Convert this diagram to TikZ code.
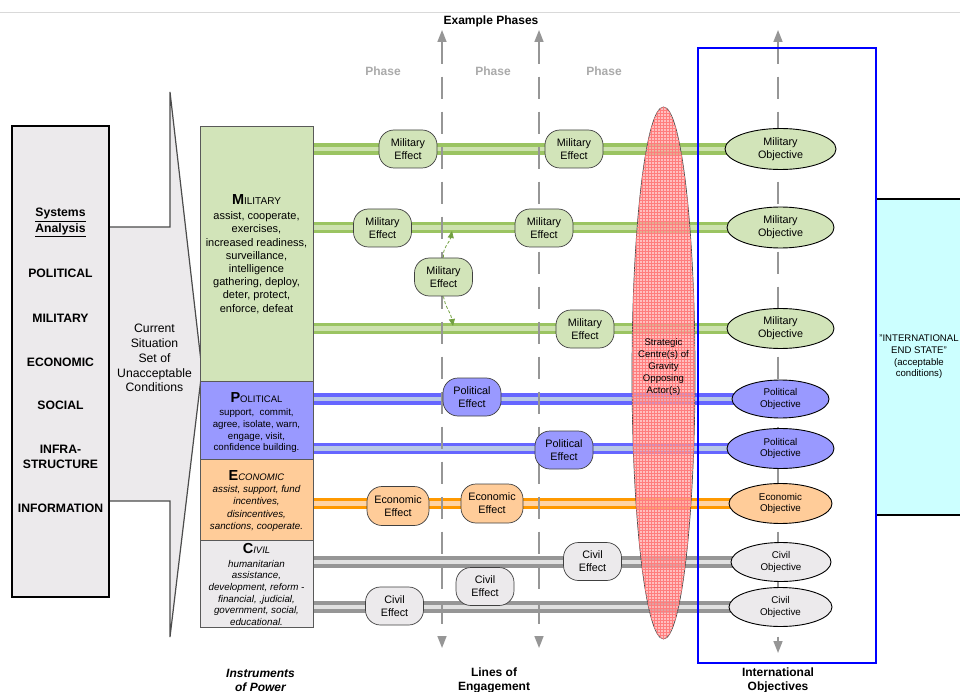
\documentclass[tikz,border=0pt]{standalone}
\usepackage{fontspec}
\setmainfont{Liberation Sans}
\usetikzlibrary{arrows.meta,patterns,shapes.geometric}
\pgfdeclarelayer{bg}
\pgfsetlayers{bg,main}
\newcommand{\fsz}[2]{\fontsize{#1}{#2}\selectfont}
\definecolor{mgreen}{RGB}{210,228,185}
\definecolor{railg}{RGB}{155,196,98}
\definecolor{railgin}{RGB}{205,226,175}
\definecolor{pblue}{RGB}{153,153,255}
\definecolor{railb}{RGB}{102,102,255}
\definecolor{railbin}{RGB}{185,200,230}
\definecolor{eorange}{RGB}{255,204,153}
\definecolor{railo}{RGB}{255,153,0}
\definecolor{railoin}{RGB}{255,212,165}
\definecolor{cgray}{RGB}{236,234,236}
\definecolor{railc}{RGB}{150,150,150}
\definecolor{railcin}{RGB}{225,225,225}
\definecolor{endcyan}{RGB}{204,255,255}
\definecolor{phasegray}{RGB}{170,170,170}
\definecolor{arrowgray}{RGB}{150,150,150}
\definecolor{linkgreen}{RGB}{115,160,65}
\definecolor{cogred}{RGB}{255,165,165}
\definecolor{coggrid}{RGB}{255,125,125}
\definecolor{objblue}{RGB}{0,0,255}
\tikzset{
  effect/.style={draw=black!75, line width=0.7pt, rounded corners=15pt,
    minimum width=58pt, minimum height=38pt, inner sep=1pt, align=center,
    font=\fsz{10.8}{13.2}},
  objective/.style={ellipse, draw=black, line width=0.9pt, inner sep=0pt,
    align=center},
  inst/.style={draw=black!65, line width=0.8pt, minimum width=113pt, inner sep=0pt},
  rail/.style={line width=3.4pt, double distance=4.8pt},
  greenrail/.style={rail, draw=railg, double=railgin},
  bluerail/.style={rail, draw=railb, double=railbin},
  orangerail/.style={rail, draw=railo, double=railoin},
  grayrail/.style={rail, draw=railc, double=railcin},
  phasearrow/.style={draw=arrowgray, line width=1.6pt, dash pattern=on 22pt off 13pt,
    {Triangle[width=9pt,length=12pt]}-{Triangle[width=9pt,length=12pt]}},
  linkarrow/.style={draw=linkgreen, line width=0.8pt, dash pattern=on 3pt off 2pt,
    -{Triangle[width=6pt,length=7pt]}},
  salabel/.style={font=\fsz{12.2}{14}\bfseries},
  botlabel/.style={font=\fsz{12}{14}\bfseries, align=center},
  phaselabel/.style={font=\fsz{12}{14}\bfseries, text=phasegray},
}
\begin{document}
\begin{tikzpicture}[x=1pt,y=-1pt]
\useasboundingbox (0,0) rectangle (960,692);
\begin{pgfonlayer}{bg}
  \fill[white] (0,0) rectangle (960,692);
\end{pgfonlayer}
\clip (0,0) rectangle (960,692);
\draw[black!15, line width=0.8pt] (0,12) -- (960,12);

% chevron and systems analysis box
\draw[draw=black!70, line width=1.2pt, fill=cgray] (109,227) -- (170,227) -- (170,92)
  -- (202,370) -- (170,637) -- (170,501) -- (109,501) -- cycle;
\node[draw=black, line width=1.1pt, fill=cgray, minimum width=97pt, minimum height=471pt,
  inner sep=0pt] (sa) at (60.5,361.5) {};
\node[salabel] (sa1) at (60.5,215) {\underline{Systems}};
\node[salabel] (sa2) at (60.5,230) {\underline{Analysis}};
\node[salabel] (sa3) at (60.5,273) {POLITICAL};
\node[salabel] (sa4) at (60.5,318) {MILITARY};
\node[salabel] (sa5) at (60.5,362) {ECONOMIC};
\node[salabel] (sa6) at (60.5,405) {SOCIAL};
\node[salabel] (sa7) at (60.5,449) {INFRA-};
\node[salabel] (sa8) at (60.5,464) {STRUCTURE};
\node[salabel] (sa9) at (60.5,508) {INFORMATION};
\node[align=center, font=\fsz{12.2}{14.8}] (cur) at (154.5,358)
  {Current\\Situation\\Set of\\Unacceptable\\Conditions};

% instruments of power
\node[inst, fill=mgreen, minimum height=255pt] (mil) at (256.5,253.5) {};
\node[inst, fill=pblue, minimum height=78pt] (pol) at (256.5,420) {};
\node[inst, fill=eorange, minimum height=81pt] (eco) at (256.5,499.5) {};
\node[inst, fill=cgray, minimum height=87pt] (civ) at (256.5,583.5) {};
\node[align=center, font=\fsz{11}{13.2}] (miltxt) at (256.5,254)
  {{\fsz{14.5}{15}\bfseries M}{\fsz{10}{12}ILITARY}\\[2pt]
   assist, cooperate,\\ exercises,\\ increased readiness,\\ surveillance,\\
   intelligence\\ gathering, deploy,\\ deter, protect,\\ enforce, defeat};
\node[align=center, font=\fsz{9.7}{11.6}] (poltxt) at (256.5,422.5)
  {{\fsz{14.5}{15}\bfseries P}{\fsz{9.5}{11}OLITICAL}\\[2pt]
   support,\ \ commit,\\ agree, isolate, warn,\\ engage, visit,\\ confidence building.};
\node[align=center, font=\fsz{9.8}{12.2}\itshape] (ecotxt) at (256.5,501)
  {{\fsz{14.5}{15}\bfseries\upshape E}{\fsz{9.5}{11}CONOMIC}\\
   assist, support, fund\\ incentives,\\ disincentives,\\ sanctions, cooperate.};
\node[align=center, font=\fsz{9.8}{11.6}\itshape] (civtxt) at (256.5,584.5)
  {{\fsz{14.5}{15}\bfseries\upshape C}{\fsz{9.5}{11}IVIL}\\[2pt]
   humanitarian\\ assistance,\\ development, reform -\\ financial, ,judicial,\\
   government, social,\\ educational.};

% objectives
\node[objective, fill=mgreen, minimum width=111pt, minimum height=41pt, font=\fsz{10.8}{13.3}]
  (mo1) at (780.5,149) {Military\\Objective};
\node[objective, fill=mgreen, minimum width=107pt, minimum height=41pt, font=\fsz{10.8}{13.3}]
  (mo2) at (780.5,227.5) {Military\\Objective};
\node[objective, fill=mgreen, minimum width=107pt, minimum height=40pt, font=\fsz{10.8}{13.3}]
  (mo3) at (780.5,328.5) {Military\\Objective};
\node[objective, fill=pblue, minimum width=97pt, minimum height=38pt, font=\fsz{9.8}{11.5}]
  (po1) at (780.5,399) {Political\\Objective};
\node[objective, fill=pblue, minimum width=107pt, minimum height=40pt, font=\fsz{9.8}{11.5}]
  (po2) at (780.5,448.5) {Political\\Objective};
\node[objective, fill=eorange, minimum width=103pt, minimum height=40pt, font=\fsz{9.8}{11.5}]
  (eo) at (780.5,503.5) {Economic\\Objective};
\node[objective, fill=cgray, minimum width=100pt, minimum height=39pt, font=\fsz{9.8}{11.5}]
  (co1) at (781,562) {Civil\\Objective};
\node[objective, fill=cgray, minimum width=103pt, minimum height=39pt, font=\fsz{9.8}{11.5}]
  (co2) at (780.5,607) {Civil\\Objective};

% effects
\node[effect, fill=mgreen] (me1) at (408,149) {Military\\Effect};
\node[effect, fill=mgreen] (me2) at (574,149) {Military\\Effect};
\node[effect, fill=mgreen] (me3) at (382.5,228) {Military\\Effect};
\node[effect, fill=mgreen] (me4) at (544,228) {Military\\Effect};
\node[effect, fill=mgreen] (me5) at (443.5,277) {Military\\Effect};
\node[effect, fill=mgreen] (me6) at (585,329) {Military\\Effect};
\node[effect, fill=pblue] (pe1) at (472,397) {Political\\Effect};
\node[effect, fill=pblue] (pe2) at (564,450) {Political\\Effect};
\node[effect, fill=eorange, minimum width=62pt, minimum height=39pt] (ee1) at (398,506) {Economic\\Effect};
\node[effect, fill=eorange, minimum width=62pt, minimum height=39pt] (ee2) at (492,503.5) {Economic\\Effect};
\node[effect, fill=cgray] (ce1) at (592.5,561.5) {Civil\\Effect};
\node[effect, fill=cgray] (ce2) at (485,586.5) {Civil\\Effect};
\node[effect, fill=cgray] (ce3) at (394.5,606) {Civil\\Effect};

% rails and phase lines (background)
\coordinate (l1t) at (442,30); \coordinate (l1b) at (442,648);
\coordinate (l2t) at (539,30); \coordinate (l2b) at (539,648);
\coordinate (l3t) at (778,30); \coordinate (l3b) at (778,653);
\begin{pgfonlayer}{bg}
  \draw[greenrail] (mil.east |- mo1) -- (mo1.center);
  \draw[greenrail] (mil.east |- mo2) -- (mo2.center);
  \draw[greenrail] (mil.east |- mo3) -- (mo3.center);
  \draw[bluerail] (pol.east |- po1) -- (po1.center);
  \draw[bluerail] (pol.east |- po2) -- (po2.center);
  \draw[orangerail] (eco.east |- eo) -- (eo.center);
  \draw[grayrail] (civ.east |- co1) -- (co1.center);
  \draw[grayrail] (civ.east |- co2) -- (co2.center);
  \draw[phasearrow] (l1t) -- (l1b);
  \draw[phasearrow] (l2t) -- (l2b);
  \draw[phasearrow] (l3t) -- (l3b);
\end{pgfonlayer}

% links from the floating military effect
\coordinate (r2a) at (452,231);
\coordinate (r3a) at (453,326);
\draw[linkarrow] (me5.north) .. controls (442,248) and (450,242) .. (r2a);
\draw[linkarrow] (me5.south) .. controls (445,307) and (451,313) .. (r3a);

% strategic centre of gravity
\node[draw=black!70, line width=0.7pt, ellipse, minimum width=63pt, minimum height=532pt,
  inner sep=0pt, preaction={fill=cogred, fill opacity=0.7},
  postaction={pattern=grid, pattern color=coggrid, fill opacity=0.25}] (cog) at (663.5,373) {};
\node[align=center, font=\fsz{9.6}{11.8}] (cogtxt) at (663.5,367)
  {Strategic\\Centre(s) of\\Gravity\\Opposing\\Actor(s)};

% end state box and objectives frame
\fill[endcyan] (876,199) rectangle (975,515);
\draw[black, line width=1.4pt] (876,199) -- (975,199);
\draw[black, line width=1.4pt] (876,515) -- (975,515);
\node[align=center, font=\fsz{9.6}{11.7}] (endtxt) at (919,357)
  {"INTERNATIONAL\\END STATE"\\(acceptable\\conditions)};
\node[draw=objblue, line width=1.6pt, minimum width=178pt, minimum height=615pt,
  inner sep=0pt] (objframe) at (787,355.5) {};

% titles
\node[font=\fsz{12}{14}\bfseries] (title) at (491,21) {Example Phases};
\node[phaselabel] (ph1) at (383,71) {Phase};
\node[phaselabel] (ph2) at (493,71) {Phase};
\node[phaselabel] (ph3) at (604,71) {Phase};
\node[botlabel, font=\fsz{12}{14}\bfseries\itshape] (bl1) at (260.5,680) {Instruments\\of Power};
\node[botlabel] (bl2) at (494,680) {Lines of\\Engagement};
\node[botlabel] (bl3) at (778,680) {International\\Objectives};
\end{tikzpicture}
\end{document}
